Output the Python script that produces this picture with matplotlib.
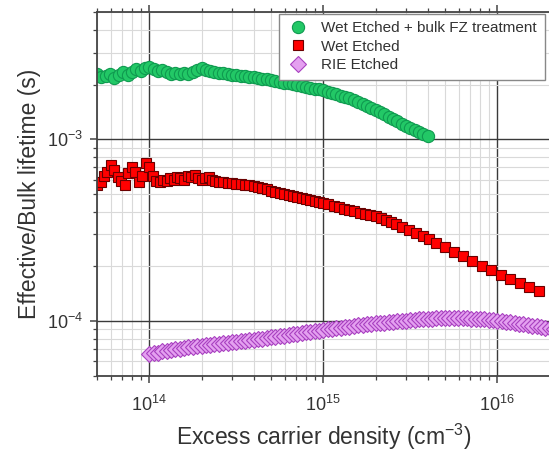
import matplotlib
matplotlib.use("Agg")
import matplotlib.pyplot as plt
from matplotlib.ticker import LogLocator, NullFormatter

plt.rcParams["font.family"] = ["Liberation Sans", "DejaVu Sans"]
plt.rcParams["mathtext.fontset"] = "custom"
plt.rcParams["mathtext.rm"] = "Liberation Sans"
plt.rcParams["mathtext.it"] = "Liberation Sans:italic"

# Wet Etched + bulk FZ treatment
fz_x = [5.01e13, 5.31e13, 5.62e13, 5.96e13, 6.31e13, 6.68e13, 7.08e13, 7.50e13, 7.94e13, 8.41e13, 8.91e13, 9.44e13,
        1.00e14, 1.06e14, 1.12e14, 1.19e14, 1.26e14, 1.33e14, 1.41e14, 1.50e14, 1.58e14, 1.68e14, 1.78e14, 1.88e14,
        2.00e14, 2.11e14, 2.24e14, 2.37e14, 2.51e14, 2.66e14, 2.82e14, 2.99e14, 3.16e14, 3.35e14, 3.55e14, 3.76e14,
        3.98e14, 4.22e14, 4.47e14, 4.73e14, 5.01e14, 5.31e14, 5.62e14, 5.96e14, 6.31e14, 6.68e14, 7.08e14, 7.50e14,
        7.94e14, 8.41e14, 8.91e14, 9.44e14,
        1.00e15, 1.06e15, 1.12e15, 1.19e15, 1.26e15, 1.33e15, 1.41e15, 1.50e15, 1.58e15, 1.68e15, 1.78e15, 1.88e15,
        2.00e15, 2.11e15, 2.24e15, 2.37e15, 2.51e15, 2.66e15, 2.82e15, 2.99e15, 3.16e15, 3.35e15, 3.55e15, 3.76e15,
        3.98e15]
fz_tau = [2.30, 2.20, 2.22, 2.28, 2.18, 2.26, 2.34, 2.27, 2.36, 2.44, 2.38, 2.46,
          2.50, 2.44, 2.38, 2.42, 2.34, 2.30, 2.33, 2.29, 2.32, 2.28, 2.34, 2.40,
          2.46, 2.41, 2.37, 2.35, 2.33, 2.31, 2.29, 2.27, 2.26, 2.24, 2.23, 2.21,
          2.20, 2.18, 2.16, 2.14, 2.12, 2.10, 2.08, 2.05, 2.03, 2.01, 1.99, 1.96,
          1.94, 1.92, 1.90, 1.88,
          1.86, 1.83, 1.80, 1.77, 1.74, 1.71, 1.68, 1.65, 1.61, 1.57, 1.53, 1.49,
          1.45, 1.41, 1.37, 1.33, 1.30, 1.26, 1.22, 1.19, 1.16, 1.13, 1.10, 1.07,
          1.04]  # ms

# Wet Etched
wet_x = [5.01e13, 5.25e13, 5.50e13, 5.75e13, 6.03e13, 6.31e13, 6.61e13, 6.92e13, 7.24e13, 7.59e13, 7.94e13,
         8.32e13, 8.71e13, 9.12e13, 9.55e13,
         1.00e14, 1.05e14, 1.10e14, 1.15e14, 1.20e14, 1.26e14, 1.32e14, 1.38e14, 1.45e14, 1.51e14, 1.58e14,
         1.66e14, 1.74e14, 1.82e14, 1.91e14, 2.00e14, 2.09e14, 2.19e14, 2.29e14, 2.40e14, 2.51e14,
         2.66e14, 2.82e14, 2.99e14, 3.16e14, 3.35e14, 3.55e14, 3.76e14, 3.98e14, 4.22e14, 4.47e14, 4.73e14,
         5.01e14, 5.31e14, 5.62e14, 5.96e14, 6.31e14, 6.68e14, 7.08e14, 7.50e14, 7.94e14, 8.41e14, 8.91e14,
         9.44e14, 1.00e15,
         1.07e15, 1.15e15, 1.23e15, 1.32e15, 1.41e15, 1.51e15, 1.62e15, 1.74e15, 1.86e15, 2.00e15, 2.14e15,
         2.29e15, 2.46e15, 2.63e15, 2.82e15,
         3.09e15, 3.39e15, 3.72e15, 4.07e15, 4.47e15,
         5.01e15, 5.62e15, 6.31e15,
         7.16e15, 8.13e15, 9.23e15, 1.05e16, 1.19e16, 1.35e16, 1.53e16, 1.74e16]
wet_tau = [5.6, 5.8, 6.3, 6.6, 7.2, 6.8, 6.2, 5.9, 5.6, 6.5, 7.0, 6.6, 5.8, 6.3, 7.4,
           7.0, 6.3, 5.9, 5.8, 6.0, 5.9, 6.1, 6.0, 6.2, 6.1, 6.0, 6.3, 6.2, 6.4, 6.1, 6.0,
           6.1, 6.2, 6.0, 5.9, 5.85,
           5.80, 5.77, 5.73, 5.70, 5.66, 5.62, 5.58, 5.52, 5.45, 5.38, 5.30, 5.22, 5.15, 5.08,
           5.01, 4.95, 4.88, 4.82, 4.76, 4.70, 4.65, 4.59, 4.53, 4.46,
           4.38, 4.31, 4.23, 4.16, 4.09, 4.02, 3.95, 3.88, 3.82, 3.76, 3.67, 3.58, 3.49, 3.40, 3.30,
           3.18, 3.06, 2.93, 2.81, 2.69,
           2.55, 2.41, 2.28,
           2.15, 2.02, 1.90, 1.80, 1.70, 1.62, 1.54, 1.46]  # x1e-4 s

# RIE Etched
rie_x = [1.00e14, 1.06e14, 1.12e14, 1.19e14, 1.26e14, 1.33e14, 1.41e14, 1.50e14, 1.58e14, 1.68e14,
         1.78e14, 1.88e14, 2.00e14, 2.11e14, 2.24e14, 2.37e14, 2.51e14, 2.66e14, 2.82e14, 2.99e14,
         3.16e14, 3.35e14, 3.55e14, 3.76e14, 3.98e14, 4.22e14, 4.47e14, 4.73e14, 5.01e14, 5.31e14,
         5.62e14, 5.96e14, 6.31e14, 6.68e14, 7.08e14, 7.50e14, 7.94e14, 8.41e14, 8.91e14, 9.44e14,
         1.00e15, 1.06e15, 1.12e15, 1.19e15, 1.26e15, 1.33e15, 1.41e15, 1.50e15, 1.58e15, 1.68e15,
         1.78e15, 1.88e15, 2.00e15, 2.11e15, 2.24e15, 2.37e15, 2.51e15, 2.66e15, 2.82e15, 2.99e15,
         3.16e15, 3.35e15, 3.55e15, 3.76e15, 3.98e15, 4.22e15, 4.47e15, 4.73e15, 5.01e15, 5.31e15,
         5.62e15, 5.96e15, 6.31e15, 6.68e15, 7.08e15, 7.50e15, 7.94e15, 8.41e15, 8.91e15, 9.44e15,
         1.00e16, 1.06e16, 1.12e16, 1.19e16, 1.26e16, 1.33e16, 1.41e16, 1.50e16, 1.58e16, 1.68e16,
         1.78e16, 1.88e16, 2.00e16, 2.11e16, 2.24e16]
rie_tau = [0.660, 0.665, 0.670, 0.680, 0.685, 0.690, 0.700, 0.705, 0.710, 0.715,
           0.720, 0.725, 0.730, 0.735, 0.740, 0.745, 0.750, 0.755, 0.760, 0.765,
           0.770, 0.775, 0.780, 0.785, 0.790, 0.795, 0.800, 0.810, 0.815, 0.820,
           0.825, 0.830, 0.840, 0.845, 0.850, 0.860, 0.865, 0.870, 0.880, 0.885,
           0.890, 0.900, 0.905, 0.910, 0.920, 0.925, 0.930, 0.940, 0.945, 0.950,
           0.960, 0.965, 0.970, 0.975, 0.980, 0.985, 0.990, 0.995, 1.000, 1.005,
           1.010, 1.015, 1.020, 1.025, 1.030, 1.030, 1.035, 1.035, 1.040, 1.040,
           1.040, 1.040, 1.035, 1.035, 1.030, 1.030, 1.025, 1.020, 1.015, 1.010,
           1.005, 0.998, 0.990, 0.982, 0.974, 0.966, 0.958, 0.950, 0.942, 0.934,
           0.926, 0.918, 0.910, 0.900, 0.890]  # x1e-4 s

fig = plt.figure(figsize=(5.49, 4.51), dpi=100)
ax = fig.add_axes([0.1765, 0.167, 0.8248, 0.8057])

ax.plot(fz_x, [v * 1e-3 for v in fz_tau], ls="none", marker="o", ms=8.8,
        mfc="#22c866", mec="#0f9a50", mew=0.8, label="Wet Etched + bulk FZ treatment")
ax.plot(wet_x, [v * 1e-4 for v in wet_tau], ls="none", marker="s", ms=7.5,
        mfc="#ff0000", mec="#6a0000", mew=0.8, label="Wet Etched")
ax.plot(rie_x, [v * 1e-4 for v in rie_tau], ls="none", marker="D", ms=8.0,
        mfc="#e4a0f0", mec="#a840c0", mew=0.8, label="RIE Etched")

ax.set_xscale("log")
ax.set_yscale("log")
ax.set_xlim(5e13, 2e16)
ax.set_ylim(5e-5, 5e-3)

ax.xaxis.set_minor_locator(LogLocator(base=10, subs=range(2, 10), numticks=20))
ax.yaxis.set_minor_locator(LogLocator(base=10, subs=range(2, 10), numticks=20))
ax.xaxis.set_minor_formatter(NullFormatter())
ax.yaxis.set_minor_formatter(NullFormatter())

ax.grid(which="major", color="#3a3a3a", lw=1.0)
ax.grid(which="minor", color="#d9d9d9", lw=0.8)
ax.set_axisbelow(True)

for s in ax.spines.values():
    s.set_color("#444444")
    s.set_linewidth(1.3)

ax.tick_params(which="both", colors="#444444", labelcolor="#333333", labelsize=13)
ax.tick_params(which="both", top=True, right=True)
ax.tick_params(which="major", length=5, width=1.1)
ax.tick_params(which="minor", length=3, width=0.9)
ax.tick_params(axis="x", pad=9)
ax.tick_params(axis="y", pad=5)

ax.set_xlabel("Excess carrier density (cm$^{-3}$)", fontsize=16.5, color="#333333", labelpad=5)
ax.set_ylabel("Effective/Bulk lifetime (s)", fontsize=16.5, color="#333333", labelpad=4)

leg = ax.legend(loc="upper right", bbox_to_anchor=(0.992, 1.0), fontsize=11,
                frameon=True, fancybox=False, edgecolor="#888888", framealpha=1,
                handletextpad=0.7, labelspacing=0.28, borderpad=0.5, handlelength=1.6,
                borderaxespad=0.1)
leg.get_frame().set_linewidth(1.0)
for t in leg.get_texts():
    t.set_color("#333333")

fig.savefig("out.png", dpi=100)
